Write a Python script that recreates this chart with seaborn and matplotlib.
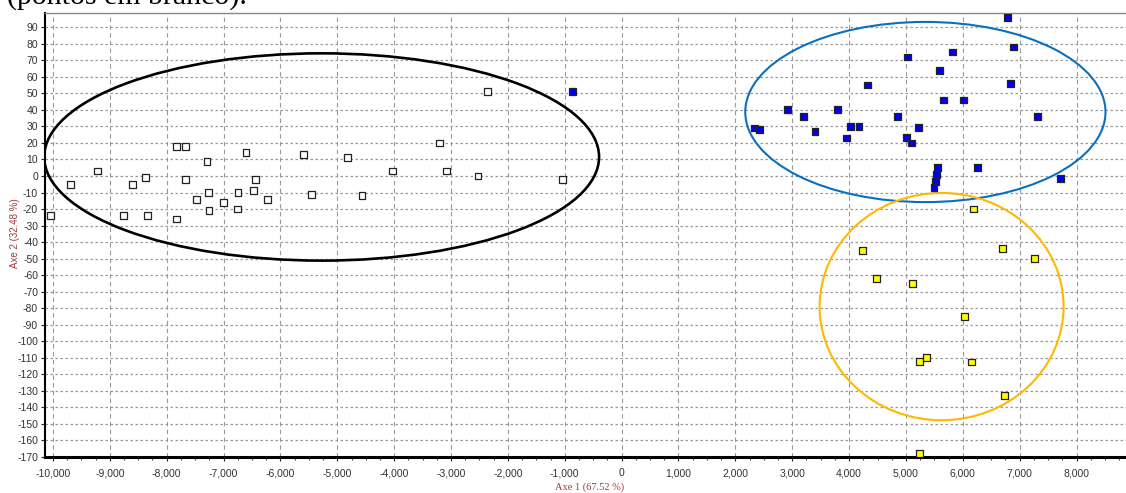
import numpy as np
import pandas as pd
import matplotlib
matplotlib.use("Agg")
import matplotlib.pyplot as plt
from matplotlib.patches import Ellipse
from matplotlib.ticker import FuncFormatter, MultipleLocator
import seaborn as sns

# ---- data ----
white_x = [-10050, -9690, -9220, -8760, -8605, -8340, -8370, -7830, -7830, -7670,
           -7670, -7480, -7290, -7260, -7255, -7000, -6745, -6750, -6605, -6440,
           -6475, -6230, -5590, -5455, -4825, -4565, -4030, -3205, -3075, -2525,
           -2360, -1035]
white_y = [-24, -5, 3, -24, -5, -24, -1, -26, 18, 18,
           -2, -14, 9, -10, -21, -16, -10, -20, 14, -2,
           -9, -14, 13, -11, 11, -12, 3, 20, 3, 0,
           51, -2]

blue_x = [6787, 6887, 6840, 5023, 5820, 5586, 4331, 5657, 6019, 2918,
          3798, 3194, 4858, 7309, 2333, 2420, 3400, 4026, 4174, 5223,
          3957, 5006, 5104, 5556, 5544, 5526, 5492, 6259, 7719, -857]
blue_y = [96, 78, 56, 72, 75, 64, 55, 46, 46, 40,
          40, 36, 36, 36, 29, 28, 27, 30, 30, 29.5,
          23, 23.5, 20, 5, 1, -3.5, -7, 5, -1.5, 51]

yellow_x = [4232, 6694, 7267, 4483, 5122, 6025, 5240, 5368, 6160, 6730, 5240, 6184]
yellow_y = [-45, -44, -50, -62, -65, -85, -112, -110, -112.5, -133, -168, -20]

groups = ["branco", "azul", "amarelo"]
group_colors = ["#FFFFFF", "#0000F0", "#FFFF00"]

# ellipses: center x, center y, width, height, colour
ell_cx = [-5275, 5342, 5627]
ell_cy = [11.5, 38.7, -79]
ell_w = [9757, 6335, 4291]
ell_h = [125.4, 109, 137.5]
ell_colors = ["#000000", "#0A70BE", "#FFB800"]
ell_lw = [1.9, 1.5, 1.5]

x_label = "Axe 1 (67.52 %)"
y_label = "Axe 2 (32.48 %)"
caption = "(pontos em branco)."

df = pd.DataFrame({
    "x": white_x + blue_x + yellow_x,
    "y": white_y + blue_y + yellow_y,
    "grupo": [groups[0]] * len(white_x) + [groups[1]] * len(blue_x) + [groups[2]] * len(yellow_x),
})

fig = plt.figure(figsize=(11.26, 4.93), dpi=100)
W, H = 1126, 493
ax = fig.add_axes([45 / W, (H - 457) / H, (W - 45) / W, (457 - 13) / H])

ax.set_xlim(-10140, 8870)
ax.set_ylim(-170, 98.6)

ax.xaxis.set_major_locator(MultipleLocator(1000))
ax.xaxis.set_minor_locator(MultipleLocator(250))
ax.yaxis.set_major_locator(MultipleLocator(10))
ax.xaxis.grid(True, linestyle=(0, (4, 3)), color="#9a9a9a", lw=0.8)
ax.yaxis.grid(True, linestyle=(0, (2, 2)), color="#9a9a9a", lw=0.9)
ax.set_axisbelow(True)

for cx, cy, w, h, c, lw in zip(ell_cx, ell_cy, ell_w, ell_h, ell_colors, ell_lw):
    ax.add_patch(Ellipse((cx, cy), w, h, fill=False, edgecolor=c, lw=lw, zorder=3))

sns.scatterplot(data=df, x="x", y="y", hue="grupo", palette=dict(zip(groups, group_colors)),
                marker="s", s=24, edgecolor="#222222", linewidth=0.9, legend=False,
                ax=ax, zorder=4)

ax.set_xlabel("")
ax.set_ylabel("")
ax.xaxis.set_major_formatter(FuncFormatter(lambda v, p: f"{int(round(v)):,}"))
ax.yaxis.set_major_formatter(FuncFormatter(lambda v, p: f"{int(round(v))}"))

ax.tick_params(axis="both", which="major", labelsize=7.5, colors="#222222",
               labelcolor="#333333", length=3, width=0.8, pad=2)
ax.tick_params(axis="x", which="major", pad=5)
ax.tick_params(axis="x", which="minor", length=2, width=0.6, color="#222222")
for lab in ax.get_xticklabels() + ax.get_yticklabels():
    lab.set_family("Liberation Sans")

ax.spines["right"].set_visible(False)
ax.spines["top"].set_color("#888888")
ax.spines["top"].set_linewidth(1.0)
ax.spines["left"].set_color("black")
ax.spines["left"].set_linewidth(1.5)
ax.spines["bottom"].set_color("black")
ax.spines["bottom"].set_linewidth(2.2)

fig.text(590 / W, 1 - 487 / H, x_label, ha="center", va="center", fontsize=7.5,
         family="Liberation Serif", color="#9B3B3B")
fig.text(15 / W, 1 - 233 / H, y_label, ha="center", va="center", rotation=90,
         fontsize=7, family="Liberation Sans", color="#9B3B3B")
fig.text(7 / W, 1 - 4 / H, caption, ha="left", va="baseline", fontsize=21.5,
         family="Liberation Serif", color="black")

fig.savefig("out.png", dpi=100)
